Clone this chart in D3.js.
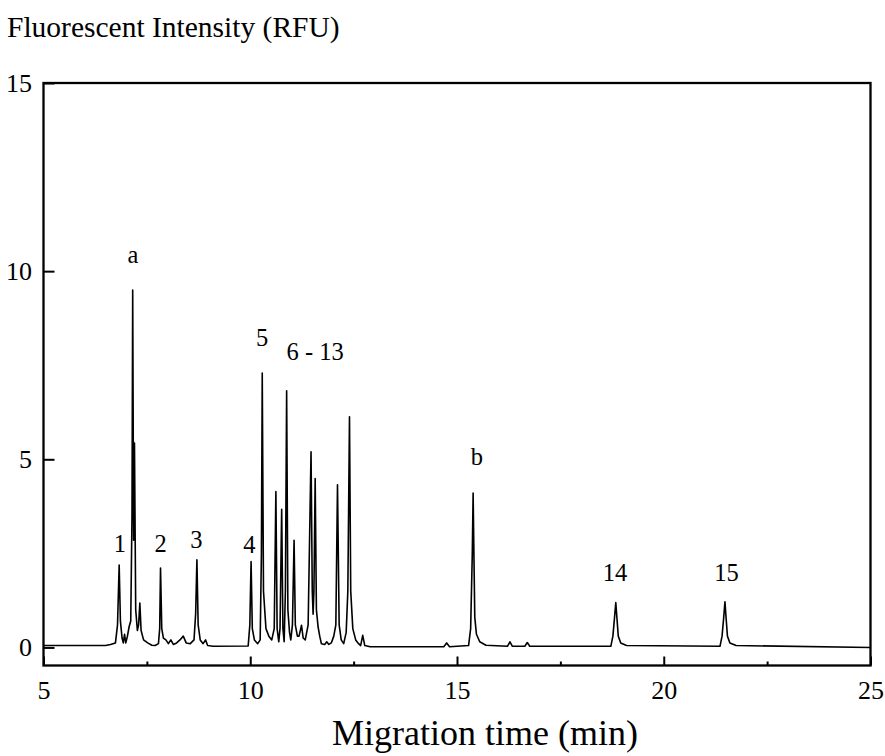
<!DOCTYPE html>
<html>
<head>
<meta charset="utf-8">
<script src="https://cdn.jsdelivr.net/npm/d3@7"></script>
<style>
  body { margin: 0; background: #fff; }
  svg { display: block; font-family: "Liberation Serif", "Times New Roman", serif; }
</style>
</head>
<body>
<svg id="chart" width="885" height="756"></svg>
<script>
// electropherogram trace
// migration time (min)
const traceTime = [
  5.00, 6.50, 6.62, 6.74, 6.79, 6.83, 6.86, 6.90, 6.93, 6.96,
  6.99, 7.03, 7.07, 7.11, 7.14, 7.157, 7.18, 7.20, 7.23, 7.27,
  7.30, 7.33, 7.36, 7.42, 7.52, 7.62, 7.70, 7.78, 7.81, 7.83,
  7.86, 7.90, 7.96, 8.02, 8.08, 8.14, 8.22, 8.30, 8.38, 8.45,
  8.55, 8.64, 8.68, 8.71, 8.74, 8.79, 8.86, 8.92, 8.97, 9.10,
  9.95, 9.99, 10.02, 10.05, 10.10, 10.18, 10.24, 10.27, 10.29, 10.32,
  10.38, 10.45, 10.52, 10.58, 10.62, 10.65, 10.69, 10.72, 10.76, 10.79,
  10.82, 10.85, 10.88, 10.91, 10.95, 10.98, 11.02, 11.06, 11.09, 11.14,
  11.18, 11.24, 11.28, 11.33, 11.40, 11.47, 11.50, 11.52, 11.54, 11.57,
  11.60, 11.64, 11.68, 11.72, 11.80, 11.85, 11.90, 11.96, 12.02, 12.07,
  12.11, 12.15, 12.20, 12.26, 12.32, 12.36, 12.40, 12.43, 12.48, 12.55,
  12.62, 12.67, 12.72, 12.77, 12.90, 14.68, 14.75, 14.82, 15.28, 15.33,
  15.37, 15.39, 15.41, 15.43, 15.47, 15.55, 15.70, 16.22, 16.28, 16.34,
  16.64, 16.70, 16.76, 18.72, 18.77, 18.81, 18.84, 18.87, 18.90, 18.96,
  19.10, 21.36, 21.41, 21.45, 21.48, 21.51, 21.54, 21.60, 21.75, 25.00
];
// fluorescent intensity (RFU), same order as traceTime
const traceRfu = [
  0.05, 0.05, 0.08, 0.12, 0.6, 2.19, 0.7, 0.25, 0.12, 0.35,
  0.12, 0.3, 0.55, 0.7, 3.5, 9.5, 2.85, 5.43, 1.0, 0.45,
  0.6, 1.18, 0.45, 0.2, 0.12, 0.06, 0.05, 0.1, 0.5, 2.11,
  0.5, 0.25, 0.2, 0.1, 0.2, 0.08, 0.12, 0.2, 0.3, 0.12,
  0.1, 0.2, 0.9, 2.33, 0.6, 0.2, 0.1, 0.2, 0.05, 0.03,
  0.04, 0.6, 2.28, 0.5, 0.2, 0.1, 0.2, 2.5, 7.29, 1.5,
  0.5, 0.3, 0.2, 0.5, 4.14, 0.5, 0.15, 0.5, 3.67, 0.5,
  0.15, 1.5, 6.82, 1.0, 0.4, 0.2, 0.6, 2.85, 0.6, 0.3,
  0.3, 0.59, 0.25, 0.2, 0.6, 5.2, 1.5, 0.88, 1.5, 4.49,
  1.0, 0.55, 0.3, 0.1, 0.08, 0.15, 0.08, 0.12, 0.3, 0.6,
  4.32, 0.6, 0.2, 0.1, 0.4, 1.5, 6.13, 1.5, 0.5, 0.2,
  0.1, 0.05, 0.32, 0.05, 0.02, 0.02, 0.12, 0.02, 0.05, 0.5,
  2.5, 4.1, 2.4, 0.8, 0.35, 0.15, 0.06, 0.03, 0.15, 0.03,
  0.03, 0.13, 0.03, 0.03, 0.3, 0.8, 1.19, 0.75, 0.3, 0.12,
  0.05, 0.03, 0.3, 0.8, 1.21, 0.75, 0.3, 0.12, 0.05, 0.0
];

// peak labels and where they sit (time, RFU of the text baseline)
const peakNames = ["1", "a", "2", "3", "4", "5", "6 - 13", "b", "14", "15"];
const peakNameTime = [6.85, 7.16, 7.83, 8.70, 9.98, 10.29, 11.57, 15.48, 18.82, 21.52];
const peakNameRfu = [2.54, 10.22, 2.54, 2.64, 2.50, 8.01, 7.64, 4.85, 1.77, 1.77];

const xTicks = [5, 10, 15, 20, 25];
const xMinorTicks = [7.5, 12.5, 17.5, 22.5];
const yTicks = [0, 5, 10, 15];

const svg = d3.select("#chart");

const x = d3.scaleLinear().domain([5, 25]).range([43.5, 870.5]);
const y = d3.scaleLinear().domain([-0.48, 15]).range([665.5, 83]);

const trace = traceTime.map((t, i) => [t, traceRfu[i]]);

// bottom axis, ticks point inward
const gx = svg.append("g")
    .attr("transform", `translate(0,${y(-0.48)})`)
    .call(d3.axisBottom(x).tickValues(xTicks).tickSize(-9).tickPadding(15).tickFormat(d3.format("d")));
gx.append("g")
    .call(d3.axisBottom(x).tickValues(xMinorTicks).tickSize(-4).tickFormat(""));
gx.selectAll(".domain").remove();

const gy = svg.append("g")
    .attr("transform", `translate(${x(5)},0)`)
    .call(d3.axisLeft(y).tickValues(yTicks).tickSize(-11).tickPadding(11.5).tickFormat(d3.format("d")));
gy.select(".domain").remove();

svg.selectAll(".tick line").attr("stroke", "#000").attr("stroke-width", 2);
svg.selectAll(".tick text")
    .attr("font-family", "'Liberation Serif', 'Times New Roman', serif")
    .attr("font-size", 26)
    .attr("fill", "#000");

// frame
svg.append("rect")
    .attr("x", x(5))
    .attr("y", y(15))
    .attr("width", x(25) - x(5))
    .attr("height", y(-0.48) - y(15))
    .attr("fill", "none")
    .attr("stroke", "#000")
    .attr("stroke-width", 2.3);

svg.append("path")
    .datum(trace)
    .attr("fill", "none")
    .attr("stroke", "#000")
    .attr("stroke-width", 1.6)
    .attr("stroke-linejoin", "round")
    .attr("d", d3.line().x(d => x(d[0])).y(d => y(d[1])));

svg.append("g")
    .attr("font-size", 24.5)
    .attr("text-anchor", "middle")
    .selectAll("text")
    .data(peakNames)
    .join("text")
    .attr("x", (d, i) => x(peakNameTime[i]))
    .attr("y", (d, i) => y(peakNameRfu[i]))
    .text(d => d);

svg.append("text")
    .attr("x", 7)
    .attr("y", 37)
    .attr("font-size", 29.5)
    .text("Fluorescent Intensity (RFU)");

svg.append("text")
    .attr("x", 485)
    .attr("y", 745)
    .attr("text-anchor", "middle")
    .attr("font-size", 36)
    .text("Migration time (min)");
</script>
</body>
</html>
